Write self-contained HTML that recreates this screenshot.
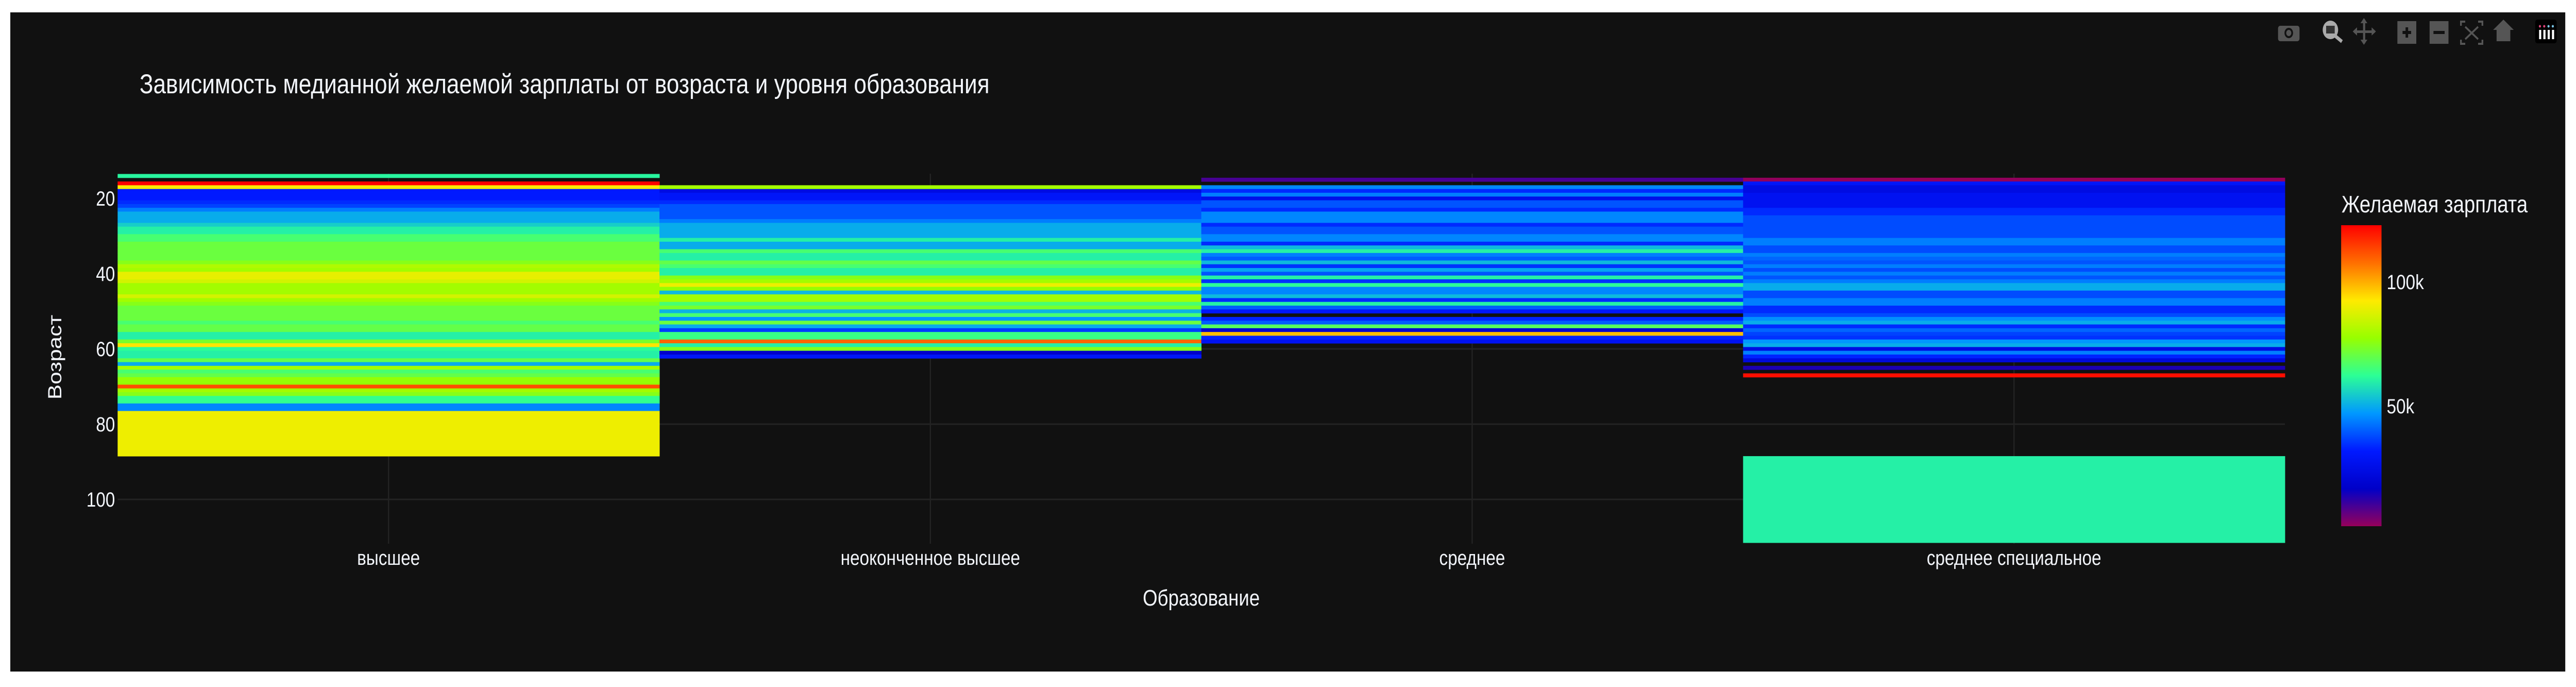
<!DOCTYPE html>
<html><head><meta charset="utf-8">
<style>
html,body{margin:0;padding:0;background:#fff;overflow:hidden;width:100%;height:100%;}
svg{display:block;width:100vw;height:100vh;font-family:"Liberation Sans","DejaVu Sans",sans-serif;}
</style></head>
<body>
<svg id="chart" viewBox="0 0 6000 1333" preserveAspectRatio="none" xmlns="http://www.w3.org/2000/svg">
<rect x="0" y="0" width="6000" height="1333" fill="#ffffff"/>
<rect x="24" y="24" width="5951" height="1279" fill="#111111"/>
<g id="grid"></g>
<g id="cells"></g>
<g id="yticks"></g>
<g id="xticks"></g>
<text x="325" y="181" font-size="53" fill="#f2f5fa">Зависимость медианной желаемой зарплаты от возраста и уровня образования</text>
<text x="2798" y="1175" font-size="44" fill="#f2f5fa" text-anchor="middle">Образование</text>
<text transform="translate(143,693) rotate(-90)" font-size="44" fill="#f2f5fa" text-anchor="middle">Возраст</text>
<defs>
<linearGradient id="cbgrad" x1="0" y1="1" x2="0" y2="0">
<stop offset="0" stop-color="rgb(150,0,90)"/><stop offset="0.125" stop-color="rgb(0,0,200)"/><stop offset="0.25" stop-color="rgb(0,25,255)"/><stop offset="0.375" stop-color="rgb(0,152,255)"/><stop offset="0.5" stop-color="rgb(44,255,150)"/><stop offset="0.625" stop-color="rgb(151,255,0)"/><stop offset="0.75" stop-color="rgb(255,234,0)"/><stop offset="0.875" stop-color="rgb(255,111,0)"/><stop offset="1" stop-color="rgb(255,0,0)"/>
</linearGradient>
</defs>
<text x="5454" y="412" font-size="46" fill="#f2f5fa">Желаемая зарплата</text>
<rect x="5453" y="437" width="94" height="584" fill="url(#cbgrad)"/>
<g id="cbticks"></g>
<g fill="#555" stroke="none">
<g><rect x="5306" y="50" width="50" height="30" rx="5"/><circle cx="5331" cy="64" r="10" fill="#111"/><circle cx="5331" cy="64" r="6"/></g>
<g><circle cx="5428" cy="58" r="18" fill="#aaa"/><rect x="5418" y="50" width="20" height="15" fill="#333"/><rect x="5440" y="70" width="18" height="7" fill="#aaa" transform="rotate(35 5445 72)"/></g>
<g><rect x="5483" y="59" width="48" height="5"/><rect x="5504" y="38" width="5" height="46"/><polygon points="5480,61 5490,53 5490,69"/><polygon points="5534,61 5524,53 5524,69"/><polygon points="5506,35 5498,45 5514,45"/><polygon points="5506,87 5498,77 5514,77"/></g>
<g><rect x="5584" y="41" width="44" height="44"/><rect x="5596" y="60" width="20" height="6" fill="#111"/><rect x="5603" y="53" width="6" height="20" fill="#111"/></g>
<g><rect x="5659" y="41" width="44" height="44"/><rect x="5668" y="60" width="26" height="6" fill="#111"/></g>
<g stroke="#555" stroke-width="4" fill="none"><path d="M5732 50v-8h10M5772 42h10v8M5782 77v8h-10M5742 85h-10v-8"/><path d="M5742 52l30 24M5772 52l-30 24"/></g>
<g><polygon points="5831,38 5855,58 5807,58"/><rect x="5815" y="56" width="32" height="24"/></g>
<g><rect x="5905" y="38" width="50" height="46" rx="5" fill="#000"/><rect x="5914" y="58" width="5" height="18" fill="#fff"/><rect x="5924" y="58" width="5" height="18" fill="#fff"/><rect x="5934" y="58" width="5" height="18" fill="#fff"/><rect x="5944" y="58" width="5" height="18" fill="#fff"/><circle cx="5916" cy="51" r="2.5" fill="#e0437a"/><circle cx="5926" cy="51" r="2.5" fill="#e0437a"/><circle cx="5936" cy="51" r="2.5" fill="#79c5e6"/><circle cx="5946" cy="51" r="2.5" fill="#79c5e6"/></g>
</g>
</svg>
<script>
// ---- data ----
const categories = ["высшее", "неоконченное высшее", "среднее", "среднее специальное"];
const ages = [14,15,16,17,18,19,20,21,22,23,24,25,26,27,28,29,30,31,32,33,34,35,36,37,38,39,40,41,42,43,44,45,46,47,48,49,50,51,52,53,54,55,56,57,58,59,60,61,62,63,64,65,66,67,68,69,70,71,72,73,74,75,76,77,100];
const N = null;
const salaryHigher = [61000,N,123000,92000,32000,32000,32000,34000,37000,44000,50000,50000,50000,55000,60000,60000,66000,66000,71000,71000,71000,71000,71000,75000,81000,79000,89000,89000,86000,79000,79000,79000,86000,79000,75000,71000,71000,71000,71000,66000,70000,70000,60000,60000,73000,93000,62000,60000,60000,70000,50000,79000,66000,70000,77000,77000,112000,79000,75000,63000,63000,45000,45000,90000,N];
const salaryIncomplete = [N,N,N,79000,24000,30000,30000,34000,39000,39000,39000,39000,44000,50000,50000,50000,50000,60000,50000,50000,66000,60000,60000,70000,66000,60000,60000,75000,79000,90000,77000,52000,79000,79000,66000,73000,51000,66000,47000,71000,50000,36000,64000,64000,109000,60000,75000,17000,30000,N,N,N,N,N,N,N,N,N,N,N,N,N,N,N,N];
const salarySecondary = [N,9700,N,45000,34000,44000,26000,39000,39000,34000,45000,45000,45000,34000,39000,39000,45000,45000,34000,52000,60000,44000,40000,52000,35000,49000,39000,60000,35000,62000,45000,45000,52000,34000,60000,40000,31000,N,33000,40000,68000,18000,98000,33000,28000,N,N,N,N,N,N,N,N,N,N,N,N,N,N,N,N,N,N,N,N];
const salaryVocational = [N,2000,30000,24000,24000,28000,28000,28000,28000,34000,34000,38000,38000,38000,38000,38000,38000,44000,44000,38000,38000,44000,41000,39000,44000,38000,44000,39000,44000,50000,50000,38000,38000,44000,44000,34000,34000,38000,46000,50000,34000,41000,37000,35000,47000,50000,24000,44000,33000,22000,N,14000,N,121000,N,N,N,N,N,N,N,N,N,N,60000];
const yTickValues = [20,40,60,80,100];
const cbTickValues = [50000,100000];
const cbTickLabels = ["50k","100k"];
const zmin = 1700, zmax = 122800;

// ---- scales ----
const plotLeft = 274, plotRight = 5322;
const band = (plotRight - plotLeft) / categories.length;
function xScale(i){ return plotLeft + i * band; }
function yScale(a){ return 239 + 7.3 * a; }
function cbScale(v){ return 1021 - (v - zmin) / (zmax - zmin) * 584; }
const stops = [[150,0,90],[0,0,200],[0,25,255],[0,152,255],[44,255,150],[151,255,0],[255,234,0],[255,111,0],[255,0,0]];
function colorOf(v){
  let t = Math.max(0, Math.min(1, (v - zmin) / (zmax - zmin))) * 8;
  let i = Math.min(7, Math.floor(t)), f = t - i;
  const a = stops[i], b = stops[i+1];
  return "rgb(" + a.map((c,k)=>Math.round(c + (b[k]-c)*f)).join(",") + ")";
}
const NS = "http://www.w3.org/2000/svg";
function mk(tag, attrs, parent){ const e = document.createElementNS(NS, tag); for (const k in attrs) e.setAttribute(k, attrs[k]); parent.appendChild(e); return e; }

// grid
const grid = document.getElementById("grid");
yTickValues.forEach(v => {
  const l = mk("line", {x1: plotLeft, x2: plotRight, y1: yScale(v), y2: yScale(v), stroke: "#232323", "stroke-width": 3}, grid);
  
  
});
categories.forEach((c, i) => {
  const l = mk("line", {x1: xScale(i) + band/2, x2: xScale(i) + band/2, y1: 337, y2: 1055, stroke: "#232323", "stroke-width": 3}, grid);
  
  
});

// cells
const series = [salaryHigher, salaryIncomplete, salarySecondary, salaryVocational];
const cells = document.getElementById("cells");
series.forEach((vals, ci) => {
  vals.forEach((v, ri) => {
    if (v === null) return;
    const a = ages[ri];
    const lo = ri > 0 ? (ages[ri-1] + a) / 2 : a - 0.5;
    const hi = ri < ages.length - 1 ? (ages[ri+1] + a) / 2 : a + (a - ages[ri-1]) / 2;
    const y1 = yScale(lo), y2 = yScale(hi);
    const r = mk("rect", {x: xScale(ci), y: y1, width: band + 0.5, height: y2 - y1 + 0.5, fill: colorOf(v)}, cells);
    
    
  });
});

// y ticks
const yt = document.getElementById("yticks");
yTickValues.forEach(v => {
  const t = mk("text", {x: 268, y: yScale(v) + 14, "font-size": 40, fill: "#f2f5fa", "text-anchor": "end"}, yt);
  t.textContent = v;
  
  
});
// x ticks
const xt = document.getElementById("xticks");
categories.forEach((c, i) => {
  const t = mk("text", {x: xScale(i) + band/2, y: 1096, "font-size": 40, fill: "#f2f5fa", "text-anchor": "middle"}, xt);
  t.textContent = c;
  
  
});
// colorbar ticks
const cbt = document.getElementById("cbticks");
cbTickValues.forEach((v, i) => {
  const t = mk("text", {x: 5559, y: cbScale(v) + 14, "font-size": 40, fill: "#f2f5fa"}, cbt);
  t.textContent = cbTickLabels[i];
  
  
});
</script>
</body></html>
